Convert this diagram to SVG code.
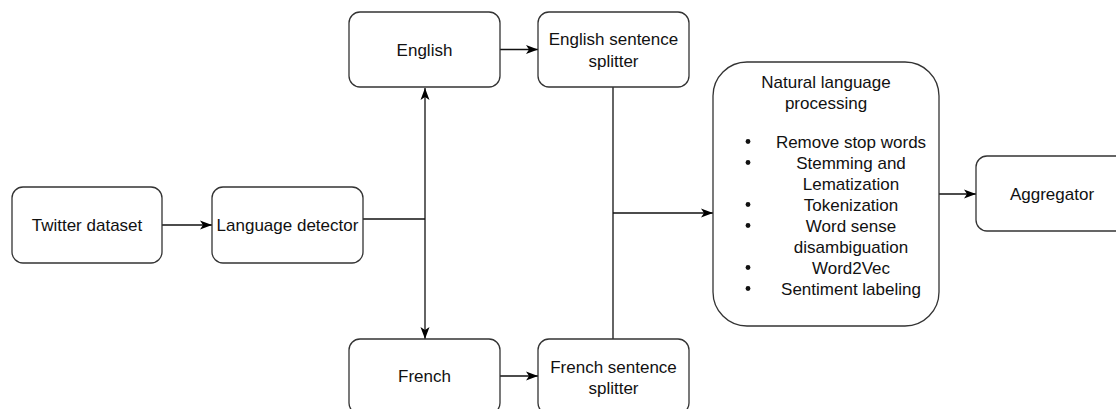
<svg xmlns="http://www.w3.org/2000/svg" width="1116" height="409" viewBox="0 0 1116 409">
<defs>
<marker id="arr" markerUnits="userSpaceOnUse" markerWidth="13" markerHeight="11" refX="12" refY="5.5" orient="auto">
<path d="M0,1 L12,5.5 L0,10 L3,5.5 Z" fill="#000"/>
</marker>
<style>
.box{fill:#fff;stroke:#333;stroke-width:1.3}
.t{font-family:"Liberation Sans",Arial,Helvetica,sans-serif;font-size:17px;fill:#111;text-anchor:middle}
.c{fill:none;stroke:#111;stroke-width:1.3}
.a{marker-end:url(#arr)}
.b{fill:#111}
</style>
</defs>
<rect width="1116" height="409" fill="#fff"/>
<g id="connectors">
<path class="c a" d="M162,225 H212"/>
<path class="c" d="M363,219 H425"/>
<path class="c a" d="M425,219 V88"/>
<path class="c a" d="M425,219 V339"/>
<path class="c a" d="M500,49.5 H538"/>
<path class="c a" d="M500,376 H538"/>
<path class="c" d="M613,87 V339"/>
<path class="c a" d="M613,213 H713"/>
<path class="c a" d="M939,194 H976"/>
</g>
<g id="twitter">
<rect class="box" x="12" y="187" width="150" height="76" rx="11"/>
<text class="t" x="87" y="231">Twitter dataset</text>
</g>
<g id="detector">
<rect class="box" x="212" y="187" width="151" height="76" rx="11"/>
<text class="t" x="287.5" y="231">Language detector</text>
</g>
<g id="english">
<rect class="box" x="349" y="12" width="151" height="75" rx="11"/>
<text class="t" x="424.5" y="55.5">English</text>
</g>
<g id="english-splitter">
<rect class="box" x="538" y="12" width="151" height="75" rx="11"/>
<text class="t" x="613.5" y="45">English sentence</text>
<text class="t" x="613.5" y="67">splitter</text>
</g>
<g id="french">
<rect class="box" x="349" y="339" width="151" height="75" rx="11"/>
<text class="t" x="424.5" y="382">French</text>
</g>
<g id="french-splitter">
<rect class="box" x="538" y="339" width="151" height="75" rx="11"/>
<text class="t" x="613.5" y="373">French sentence</text>
<text class="t" x="613.5" y="394">splitter</text>
</g>
<g id="nlp">
<rect class="box" x="713" y="62" width="226" height="264" rx="34"/>
<text class="t" x="826" y="88">Natural language</text>
<text class="t" x="826" y="109">processing</text>
<circle class="b" cx="748" cy="141.5" r="2.4"/>
<text class="t" x="851" y="147.5">Remove stop words</text>
<circle class="b" cx="748" cy="162.5" r="2.4"/>
<text class="t" x="851" y="168.5">Stemming and</text>
<text class="t" x="851" y="189.5">Lematization</text>
<circle class="b" cx="748" cy="204.5" r="2.4"/>
<text class="t" x="851" y="210.5">Tokenization</text>
<circle class="b" cx="748" cy="225.5" r="2.4"/>
<text class="t" x="851" y="231.5">Word sense</text>
<text class="t" x="851" y="252.5">disambiguation</text>
<circle class="b" cx="748" cy="267.5" r="2.4"/>
<text class="t" x="851" y="273.5">Word2Vec</text>
<circle class="b" cx="748" cy="288.5" r="2.4"/>
<text class="t" x="851" y="294.5">Sentiment labeling</text>
</g>
<g id="aggregator">
<rect class="box" x="976" y="156" width="151" height="75" rx="11"/>
<text class="t" x="1052" y="199.5">Aggregator</text>
</g>
</svg>
